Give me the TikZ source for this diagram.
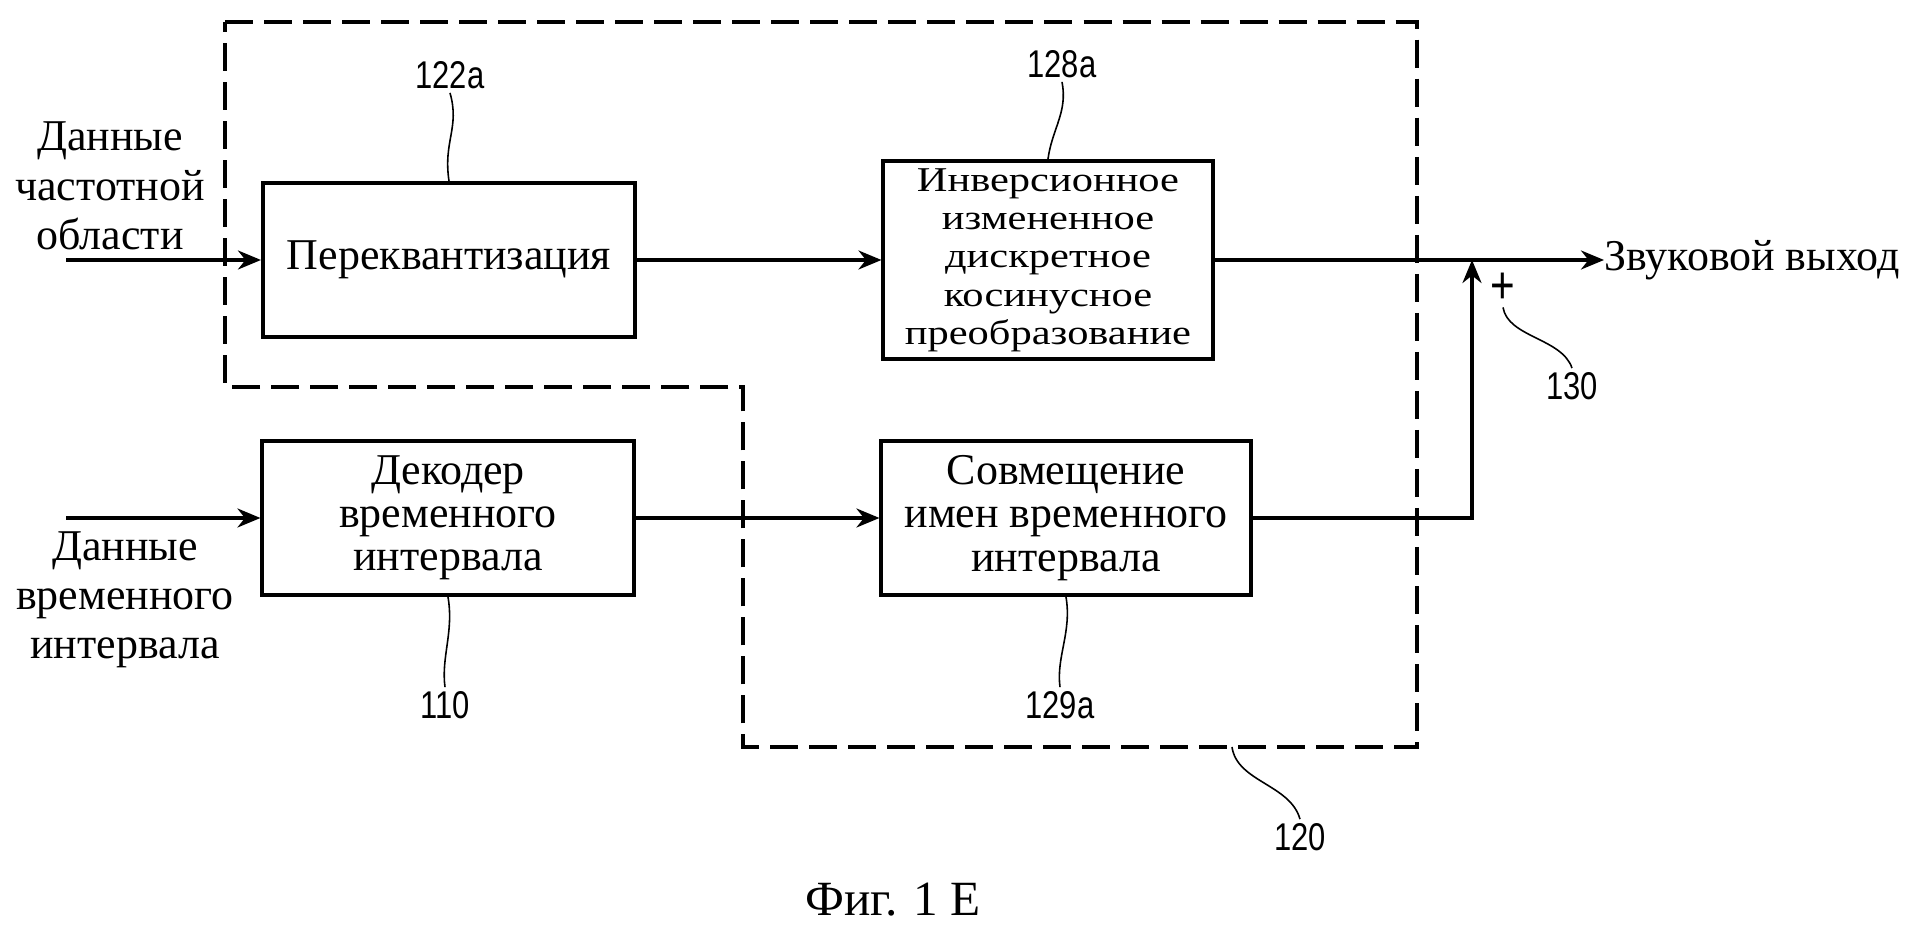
\documentclass[tikz,border=0pt]{standalone}
\usepackage{fontspec}
\setmainfont{Liberation Serif}
\newfontfamily\numfont[FakeStretch=0.8]{Liberation Sans}
\newfontfamily\shirfont[FakeStretch=1.22]{Liberation Serif}
\usepackage{tikz}
\usetikzlibrary{arrows.meta}

\begin{document}
\begin{tikzpicture}[x=0.01cm,y=-0.01cm,
  blok/.style={draw,line width=1.1pt,align=center,inner sep=0pt,font=\fontsize{12.5}{12.3}\selectfont},
  vhod/.style={align=center,inner sep=0pt,font=\fontsize{12.5}{14}\selectfont},
  nomer/.style={inner sep=1pt,font=\numfont\fontsize{11}{11}\selectfont},
  strelka/.style={-{Stealth[length=2.3mm,width=1.9mm]},line width=0.9pt},
  vynoska/.style={line width=0.45pt},
  ramka/.style={line width=0.9pt,dash pattern=on 2.8mm off 1.1mm}]
\useasboundingbox (0,0) rectangle (1926,925);

% блоки
\node[blok,minimum width=3.72cm,minimum height=1.54cm] (rekv) at (449,260) {Переквантизация};
\node[blok,minimum width=3.29cm,minimum height=1.98cm,font=\shirfont\fontsize{9.9}{10.9}\selectfont] (imdct) at (1048,260) {Инверсионное\\измененное\\дискретное\\косинусное\\преобразование};
\node[blok,minimum width=3.71cm,minimum height=1.54cm] (dek) at (448,518) {Декодер\\временного\\интервала};
\node[blok,minimum width=3.69cm,minimum height=1.54cm] (sovm) at (1066,518) {Совмещение\\имен временного\\интервала};

% рамка 120
\draw[ramka] (225,22) -- (1417,22) -- (1417,747) -- (743,747) -- (743,387) -- (225,387) -- cycle;

% входы и выход
\node[vhod] (dchast) at (110,186) {Данные\\частотной\\области};
\node[vhod] (dvrem) at (125,600) {Данные\\временного\\интервала};
\node[vhod,anchor=west] (vyhod) at (1604,260) {Звуковой выход};
\coordinate (vh1) at (66,260);
\coordinate (vh2) at (66,518);
\coordinate (uzel) at (1472,260);
\draw[strelka] (vh1) -- (rekv.west);
\draw[strelka] (vh2) -- (dek.west);
\draw[strelka] (rekv.east) -- (imdct.west);
\draw[strelka] (dek.east) -- (sovm.west);
\draw[strelka] (imdct.east) -- (vyhod.west);
\draw[strelka] (sovm.east) -| (uzel);
\node[nomer,font=\numfont\fontsize{15}{15}\selectfont] (plus) at (1503,288) {+};

% номера
\node[nomer] (n122) at (450,75) {122a};
\node[nomer] (n128) at (1062,64) {128a};
\node[nomer] (n110) at (445,705) {110};
\node[nomer] (n129) at (1060,705) {129a};
\node[nomer] (n120) at (1300,837) {120};
\node[nomer] (n130) at (1572,386) {130};
\coordinate (r120) at (1232,747);
\draw[vynoska] (n122.south) .. controls +(10,35) and +(-6,-40) .. (rekv.north);
\draw[vynoska] (n128.south) .. controls +(6,30) and +(4,-30) .. (imdct.north);
\draw[vynoska] (dek.south) .. controls +(6,35) and +(-4,-30) .. (n110.north);
\draw[vynoska] (sovm.south) .. controls +(6,35) and +(-4,-30) .. (n129.north);
\draw[vynoska] (r120) .. controls +(5,35) and +(-10,-35) .. (n120.north);
\draw[vynoska] (plus.south) .. controls +(5,30) and +(-10,-30) .. (n130.north);

\node[vhod,font=\fontsize{14}{14}\selectfont] (fig) at (893,900) {Фиг. 1 Е};
\end{tikzpicture}
\end{document}
